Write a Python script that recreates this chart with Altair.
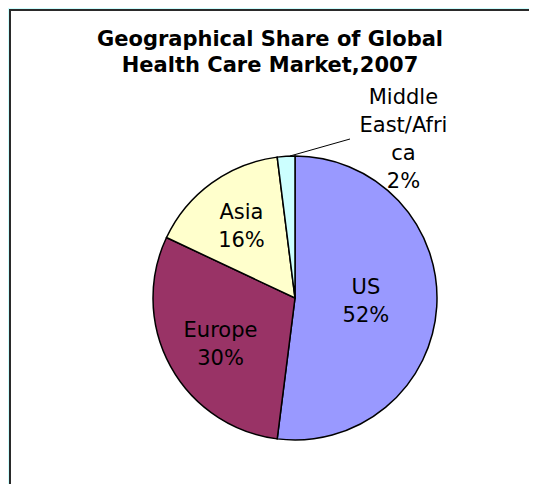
import altair as alt
import pandas as pd

regions = ["US", "Europe", "Asia", "Middle East/Africa"]
shares = [52, 30, 16, 2]
labels = ["US\n52%", "Europe\n30%", "Asia\n16%", "Middle\nEast/Afri\nca\n2%"]
colors = ["#9999FF", "#993366", "#FFFFCC", "#CCFFFF"]
title_text = "Geographical Share of Global\nHealth Care Market,2007"

df = pd.DataFrame({"region": regions, "share": shares, "label": labels,
                   "order": list(range(len(regions)))})

W, H = 521, 476
CX, CY, R = 287, 290, 142
FONT = "DejaVu Sans"
FS, LH = 21, 28

one = pd.DataFrame({"a": [0]})

frame = alt.Chart(one).mark_rect(
    fill="white", stroke="#2a2a2a", strokeWidth=2
).encode(x=alt.value(2), y=alt.value(2), x2=alt.value(W + 20), y2=alt.value(H + 20))

title = alt.Chart(one).mark_text(
    text=title_text, font=FONT, fontSize=21, fontWeight="bold", color="black",
    lineBreak="\n", lineHeight=26, align="center", baseline="alphabetic"
).encode(x=alt.value(262), y=alt.value(38))

base = alt.Chart(df).encode(
    theta=alt.Theta("share:Q", stack=True),
    order=alt.Order("order:Q"),
)

pie = base.mark_arc(stroke="black", strokeWidth=1.5, radius=R).encode(
    color=alt.Color("region:N", scale=alt.Scale(domain=regions, range=colors), legend=None),
    x=alt.value(CX), y=alt.value(CY),
)

def label_layer(region, radius, dy, theta_offset=0.0):
    return base.mark_text(
        font=FONT, fontSize=FS, lineBreak="\n", lineHeight=LH, color="black",
        radius=radius, thetaOffset=theta_offset, dy=dy,
        baseline="middle", align="center"
    ).encode(
        text="label:N", x=alt.value(CX), y=alt.value(CY),
        opacity=alt.condition(alt.datum.region == region, alt.value(1), alt.value(0)),
    )

us_lbl = label_layer("US", 71, -14)
eu_lbl = label_layer("Europe", 88, -14, -0.059)
as_lbl = label_layer("Asia", 89, -14, -0.017)
me_lbl = label_layer("Middle East/Africa", 192, -42, 0.663)

leader = alt.Chart(one).mark_rule(color="black", strokeWidth=1).encode(
    x=alt.value(282), y=alt.value(148), x2=alt.value(342), y2=alt.value(131)
)

chart = alt.layer(frame, title, pie, us_lbl, eu_lbl, as_lbl, me_lbl, leader).properties(
    width=W, height=H,
    padding=0,
    autosize=alt.AutoSizeParams(type="none"),
    background="#CCFFFF",
).configure_view(stroke=None)

chart.save("out.html", embed_options={"renderer": "svg", "actions": False})
